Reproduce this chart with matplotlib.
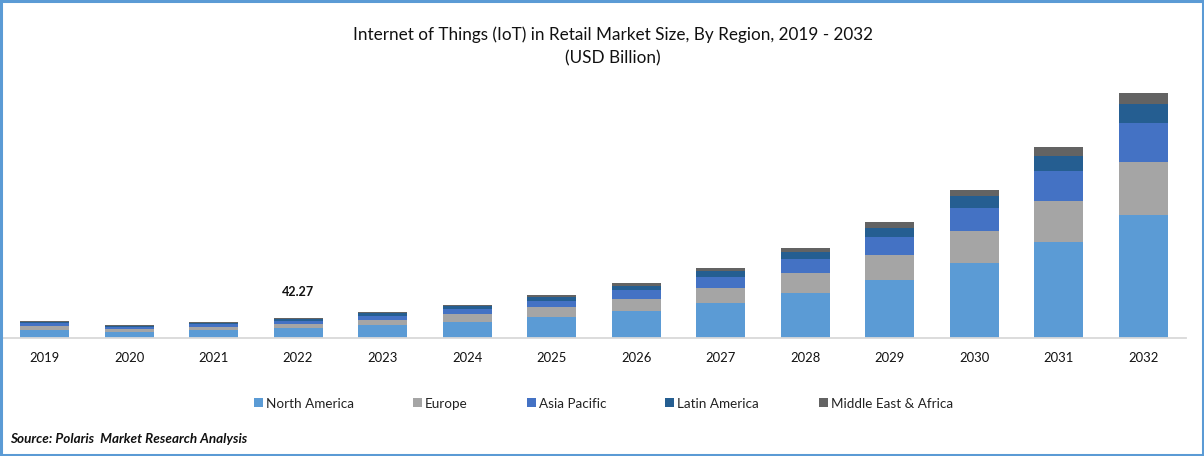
import matplotlib
matplotlib.use("Agg")
import matplotlib.pyplot as plt
from matplotlib.patches import Rectangle
import numpy as np

years = ["2019","2020","2021","2022","2023","2024","2025","2026","2027","2028","2029","2030","2031","2032"]
north_america = [16.8,13.2,16.8,21.0,27.9,34.2,44.1,56.7,73.5,94.5,121.8,157.5,201.6,258.3]
europe = [8.4,5.0,6.3,8.4,10.5,16.8,21.0,25.2,31.5,42.0,52.5,67.2,86.1,111.3]
asia_pacific = [6.9,5.5,6.3,6.3,8.4,10.5,12.6,18.9,23.1,29.4,37.8,48.3,63.0,81.9]
latin_america = [1.5,2.1,2.1,4.2,6.3,6.3,8.4,8.4,12.6,14.7,18.9,25.2,31.5,39.9]
mea = [2.1,1.5,2.1,2.37,2.1,2.1,4.2,6.3,6.3,8.4,12.6,12.6,18.9,23.1]
series = [("North America",north_america,"#5B9BD5"),("Europe",europe,"#A5A5A5"),
          ("Asia Pacific",asia_pacific,"#4472C4"),("Latin America",latin_america,"#255E91"),
          ("Middle East & Africa",mea,"#636363")]
W,H=1204,456
plt.rcParams['font.family']=['Lato','DejaVu Sans']
fig=plt.figure(figsize=((W+0.1)/100,(H+0.1)/100),dpi=100,facecolor='white')
ax=fig.add_axes([0,(H-338)/H,1,(338-60)/H])
x=np.arange(len(years))
bottom=np.zeros(len(years))
for name,v,c in series:
    ax.bar(x,v,bottom=bottom,width=49/84.5,color=c,linewidth=0,label=name)
    bottom+=np.array(v)
ax.set_xlim(-44.5/84.5,(1204-44.5)/84.5)
ax.set_ylim(0,278*2.1)
for s in ['top','left','right','bottom']: ax.spines[s].set_visible(False)
ax.plot([-44.5/84.5+3/84.5,(1186-44.5)/84.5],[0,0],color='#D9D9D9',lw=1.3,clip_on=False)
ax.set_yticks([])
ax.set_xticks(x,years)
ax.tick_params(axis='x',length=0,pad=10,labelsize=9.4,colors='#111111')
ax.text(3,bottom[3]+54,"42.27",ha='center',va='center',fontsize=9,fontweight='bold',color='#111111')
fig.text(613/W,1-35/H,"Internet of Things (IoT) in Retail Market Size, By Region, 2019 - 2032",ha='center',va='center',fontsize=12.3,color='#111111')
fig.text(613/W,1-58/H,"(USD Billion)",ha='center',va='center',fontsize=12.3,color='#111111')
lx=[254,413,527,665,819]
for (name,v,c),px in zip(series,lx):
    fig.add_artist(Rectangle((px/W,1-407/H),9/W,9/H,color=c,lw=0,transform=fig.transFigure))
    fig.text((px+12)/W,1-404/H,name,ha='left',va='center',fontsize=9.7,color='#222222')
fig.text(10/W,1-439/H,"Source: Polaris  Market Research Analysis",ha='left',va='center',fontsize=9.7,fontweight='bold',style='italic',color='#111111')
fig.add_artist(Rectangle((1/W,1/H),(W-2)/W,(H-2)/H,fill=False,ec='#5B9BD5',lw=2.2,transform=fig.transFigure))
fig.savefig("out.png",dpi=100)
